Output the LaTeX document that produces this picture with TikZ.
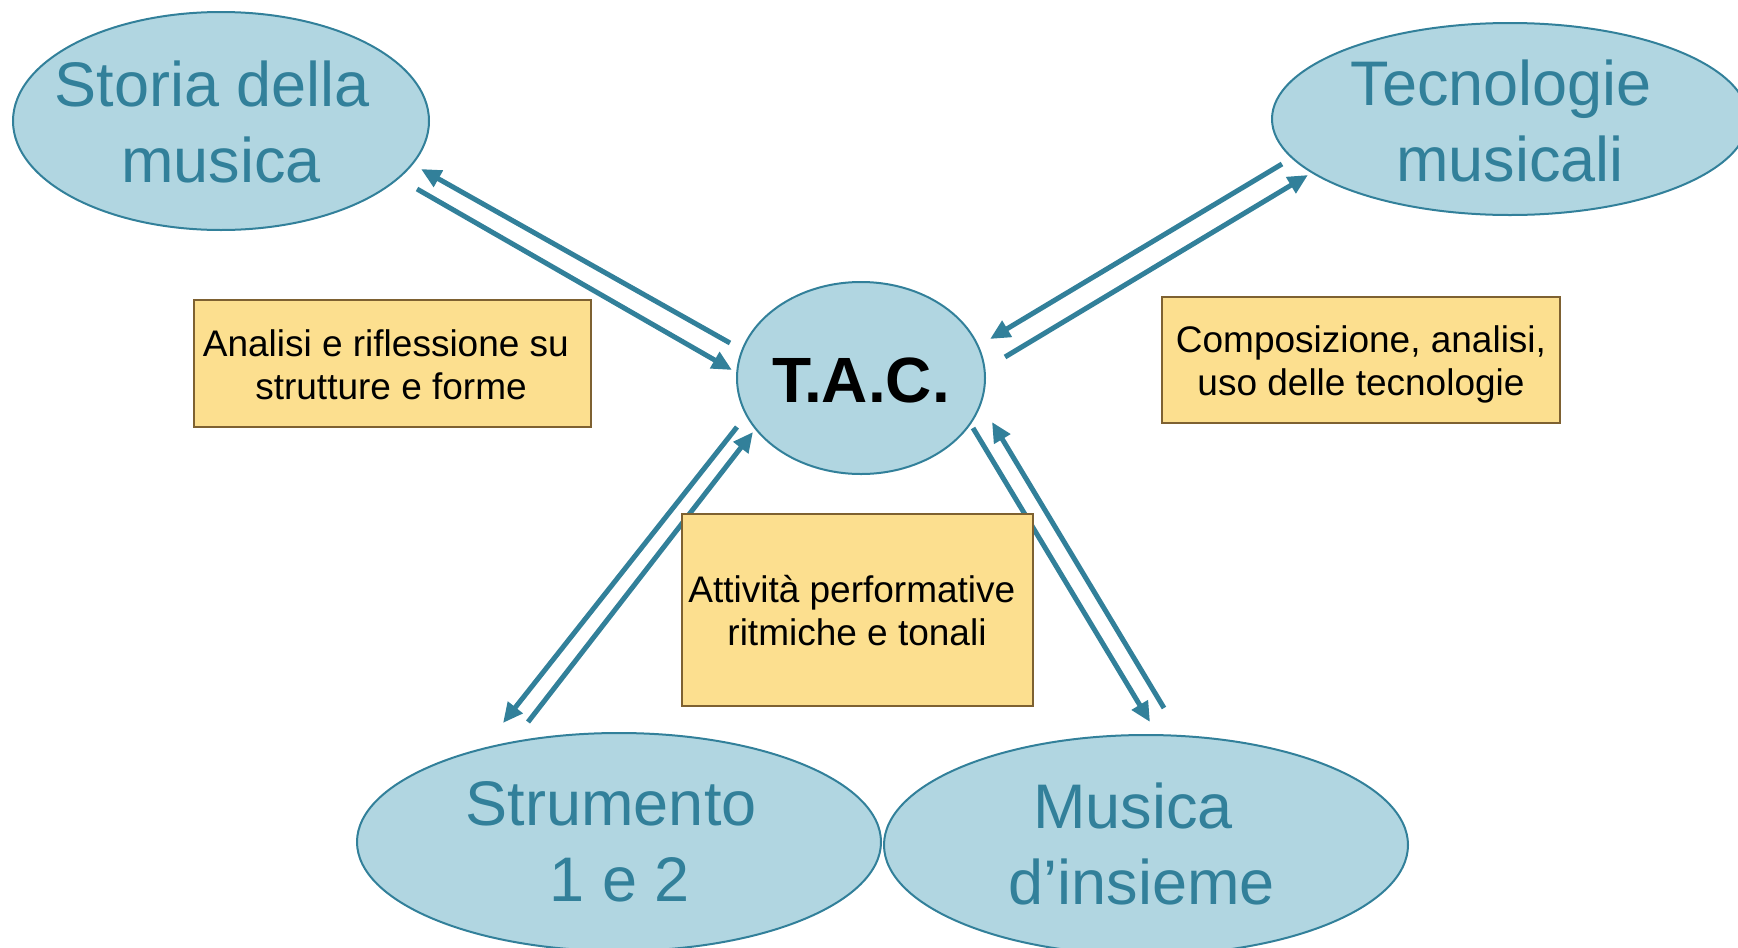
\documentclass[tikz,border=0pt]{standalone}
\usepackage{fontspec}
\setmainfont{Liberation Sans}
\usetikzlibrary{shapes.geometric,arrows.meta}
\definecolor{teal1}{HTML}{32809A}
\definecolor{ellfill}{HTML}{B1D6E1}
\definecolor{boxfill}{HTML}{FCDF8F}
\definecolor{boxdraw}{HTML}{7E6131}
\tikzset{
  ell/.style={ellipse, draw=teal1, fill=ellfill, line width=2pt, inner sep=0pt},
  bigtxt/.style={text=teal1, align=center, font=\fontsize{63}{76}\selectfont, inner sep=0pt},
  boxnode/.style={draw=boxdraw, fill=boxfill, line width=2pt, inner sep=0pt},
  boxtxt/.style={text=black, align=center, font=\fontsize{37}{43}\selectfont, inner sep=0pt},
  conn/.style={draw=teal1, line width=5pt, -{Triangle[length=20pt,width=18pt]}}
}
\newcommand{\tsp}{\hspace*{0.278em}}
\begin{document}
\begin{tikzpicture}[x=1pt,y=-1pt]
\useasboundingbox (0,0) rectangle (1738,948);
\clip (0,0) rectangle (1738,948);
% ellipses
\node[ell, minimum width=416pt, minimum height=218pt] (storia) at (221,121) {};
\node[ell, minimum width=476pt, minimum height=192pt] (tecno) at (1510,119) {};
\node[ell, minimum width=248pt, minimum height=192pt] (tac) at (861,378) {};
\node[ell, minimum width=524pt, minimum height=218pt] (strum) at (619,842) {};
\node[ell, minimum width=524pt, minimum height=220pt] (musica) at (1146,845) {};
% ellipse texts
\node[bigtxt] (storiaT) at (221,122) {Storia della\tsp\\musica};
\node[bigtxt] (tecnoT) at (1510,121) {Tecnologie\tsp\\musicali};
\node[bigtxt] (strumT) at (620,842) {Strumento\tsp\\1 e 2};
\node[bigtxt] (musicaT) at (1142,844) {Musica\tsp\\d’insieme};
\node[text=black, inner sep=0pt, font=\bfseries\fontsize{64}{76}\selectfont] (tacT) at (861,380) {T.A.C.};
% arrow end points
\coordinate (a1s) at (730,343); \coordinate (a1e) at (421,169);
\coordinate (a2s) at (417,189); \coordinate (a2e) at (732,370);
\coordinate (a3s) at (1282,164); \coordinate (a3e) at (990,339);
\coordinate (a4s) at (1005,357); \coordinate (a4e) at (1308,175);
\coordinate (a5s) at (737,427); \coordinate (a5e) at (503,723);
\coordinate (a6s) at (528,722); \coordinate (a6e) at (753,432);
\coordinate (a7s) at (973,428); \coordinate (a7e) at (1150,722);
\coordinate (a8s) at (1164,708); \coordinate (a8e) at (992,422);
\draw[conn] (a1s) -- (a1e);
\draw[conn] (a2s) -- (a2e);
\draw[conn] (a3s) -- (a3e);
\draw[conn] (a4s) -- (a4e);
\draw[conn] (a5s) -- (a5e);
\draw[conn] (a6s) -- (a6e);
\draw[conn] (a7s) -- (a7e);
\draw[conn] (a8s) -- (a8e);
% boxes
\node[boxnode, minimum width=397pt, minimum height=127pt] (box1) at (392,363) {};
\node[boxnode, minimum width=398pt, minimum height=126pt] (box2) at (1361,360) {};
\node[boxnode, minimum width=351pt, minimum height=192pt] (box3) at (857.5,610) {};
\node[boxtxt] (box1T) at (391,365) {Analisi e riflessione su\tsp\\strutture e forme};
\node[boxtxt] (box2T) at (1361,364) {Composizione, analisi,\\uso delle tecnologie};
\node[boxtxt] (box3T) at (857,611) {Attività performative\tsp\\ritmiche e tonali};
\end{tikzpicture}
\end{document}
